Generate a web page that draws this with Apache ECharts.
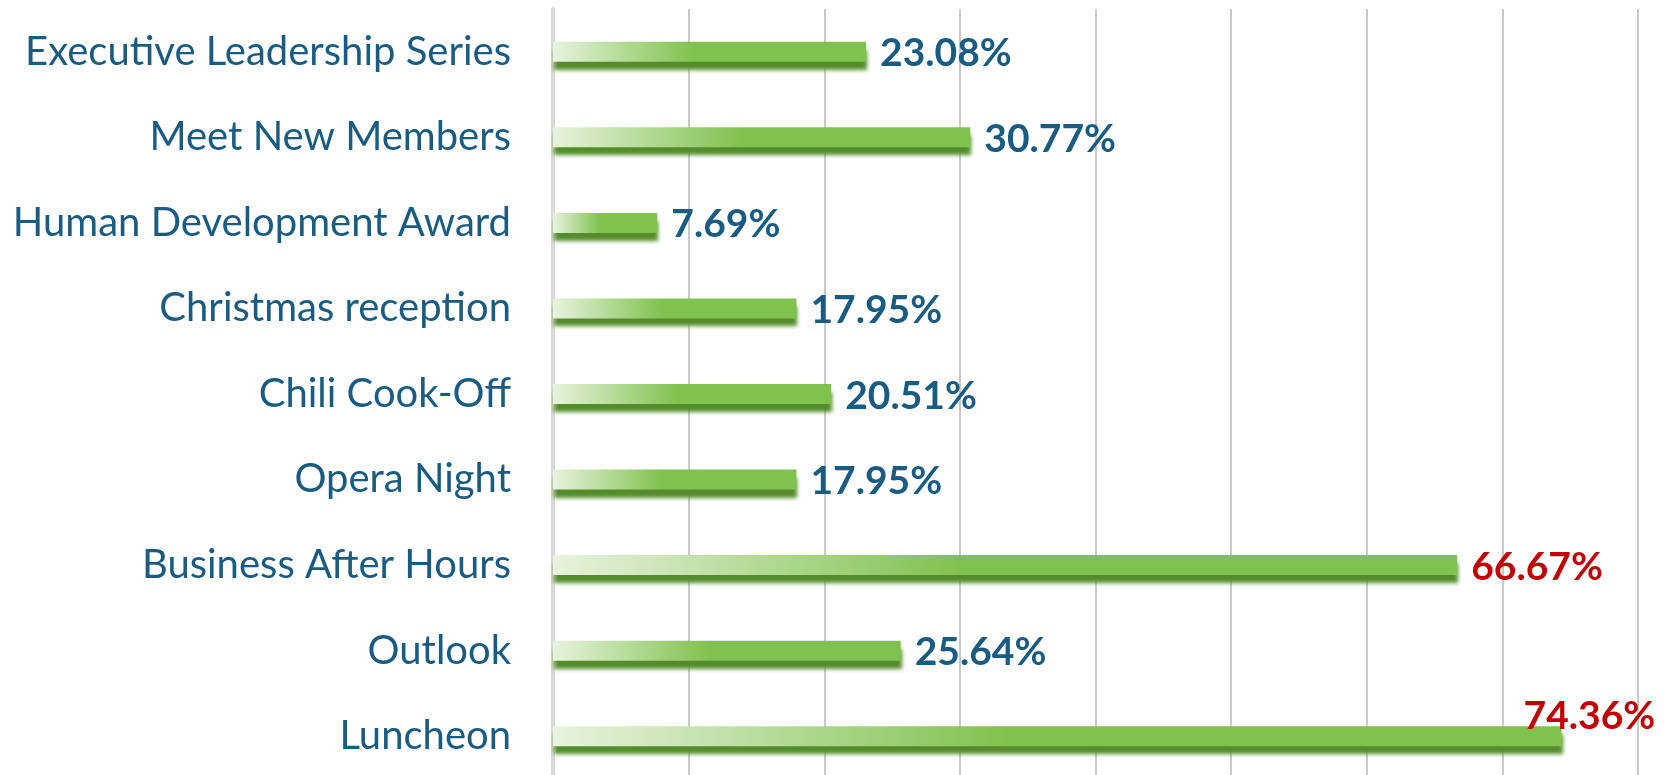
<!DOCTYPE html>
<html>
<head>
    <meta charset="utf-8">
    <title>Event attendance</title>
    <style>
        html, body { margin: 0; padding: 0; background: #fff; }
        #main { width: 1676px; height: 775px; }
    </style>
</head>
<body>
<div id="main"></div>
<script src="https://cdn.jsdelivr.net/npm/echarts@6/dist/echarts.min.js"></script>
<script type="text/javascript">
    // data, top to bottom
    var events = ['Executive Leadership Series', 'Meet New Members', 'Human Development Award',
        'Christmas reception', 'Chili Cook-Off', 'Opera Night', 'Business After Hours', 'Outlook', 'Luncheon'];
    var shares = [23.08, 30.77, 7.69, 17.95, 20.51, 17.95, 66.67, 25.64, 74.36];
    var ticks = [0, 10, 20, 30, 40, 50, 60, 70, 80];

    var textBlue = '#1a5b82';
    var textRed = '#c00000';

    var barData = shares.map(function (v, i) {
        var item = {value: v, label: {color: v > 50 ? textRed : textBlue}};
        if (i === shares.length - 1) {
            // last label sits over the bar end
            item.label.offset = [-52, -20];
        }
        return item;
    });

    var chart = echarts.init(document.getElementById('main'));
    chart.setOption({
        backgroundColor: '#fff',
        animation: false,
        grid: {
            left: 553,
            right: 38,
            top: 9,
            height: 770,
            containLabel: false,
            outerBoundsMode: 'none'
        },
        xAxis: {
            type: 'value',
            min: ticks[0],
            max: ticks[ticks.length - 1],
            interval: 10,
            axisLine: {show: false},
            axisTick: {show: false},
            axisLabel: {show: false},
            splitLine: {lineStyle: {color: '#c9c9c9', width: 2}}
        },
        yAxis: {
            type: 'category',
            inverse: true,
            data: events,
            axisLine: {lineStyle: {color: '#d9d9d9', width: 4}},
            axisTick: {show: false},
            axisLabel: {
                margin: 42,
                fontFamily: 'Lato',
                fontSize: 40,
                color: textBlue
            }
        },
        series: [{
            type: 'bar',
            data: barData,
            barWidth: 20,
            itemStyle: {
                color: new echarts.graphic.LinearGradient(0, 0, 1, 0, [
                    {offset: 0, color: '#e8f3de'},
                    {offset: 0.45, color: '#80c24f'},
                    {offset: 1, color: '#80c24f'}
                ]),
                shadowColor: 'rgba(84,140,44,1)',
                shadowOffsetY: 8,
                shadowOffsetX: 1,
                shadowBlur: 4
            },
            label: {
                show: true,
                position: 'right',
                distance: 14,
                offset: [0, 2],
                fontFamily: 'Lato',
                fontWeight: 'bold',
                fontSize: 39,
                formatter: function (p) { return p.value.toFixed(2) + '%'; }
            }
        }]
    });
</script>
</body>
</html>
